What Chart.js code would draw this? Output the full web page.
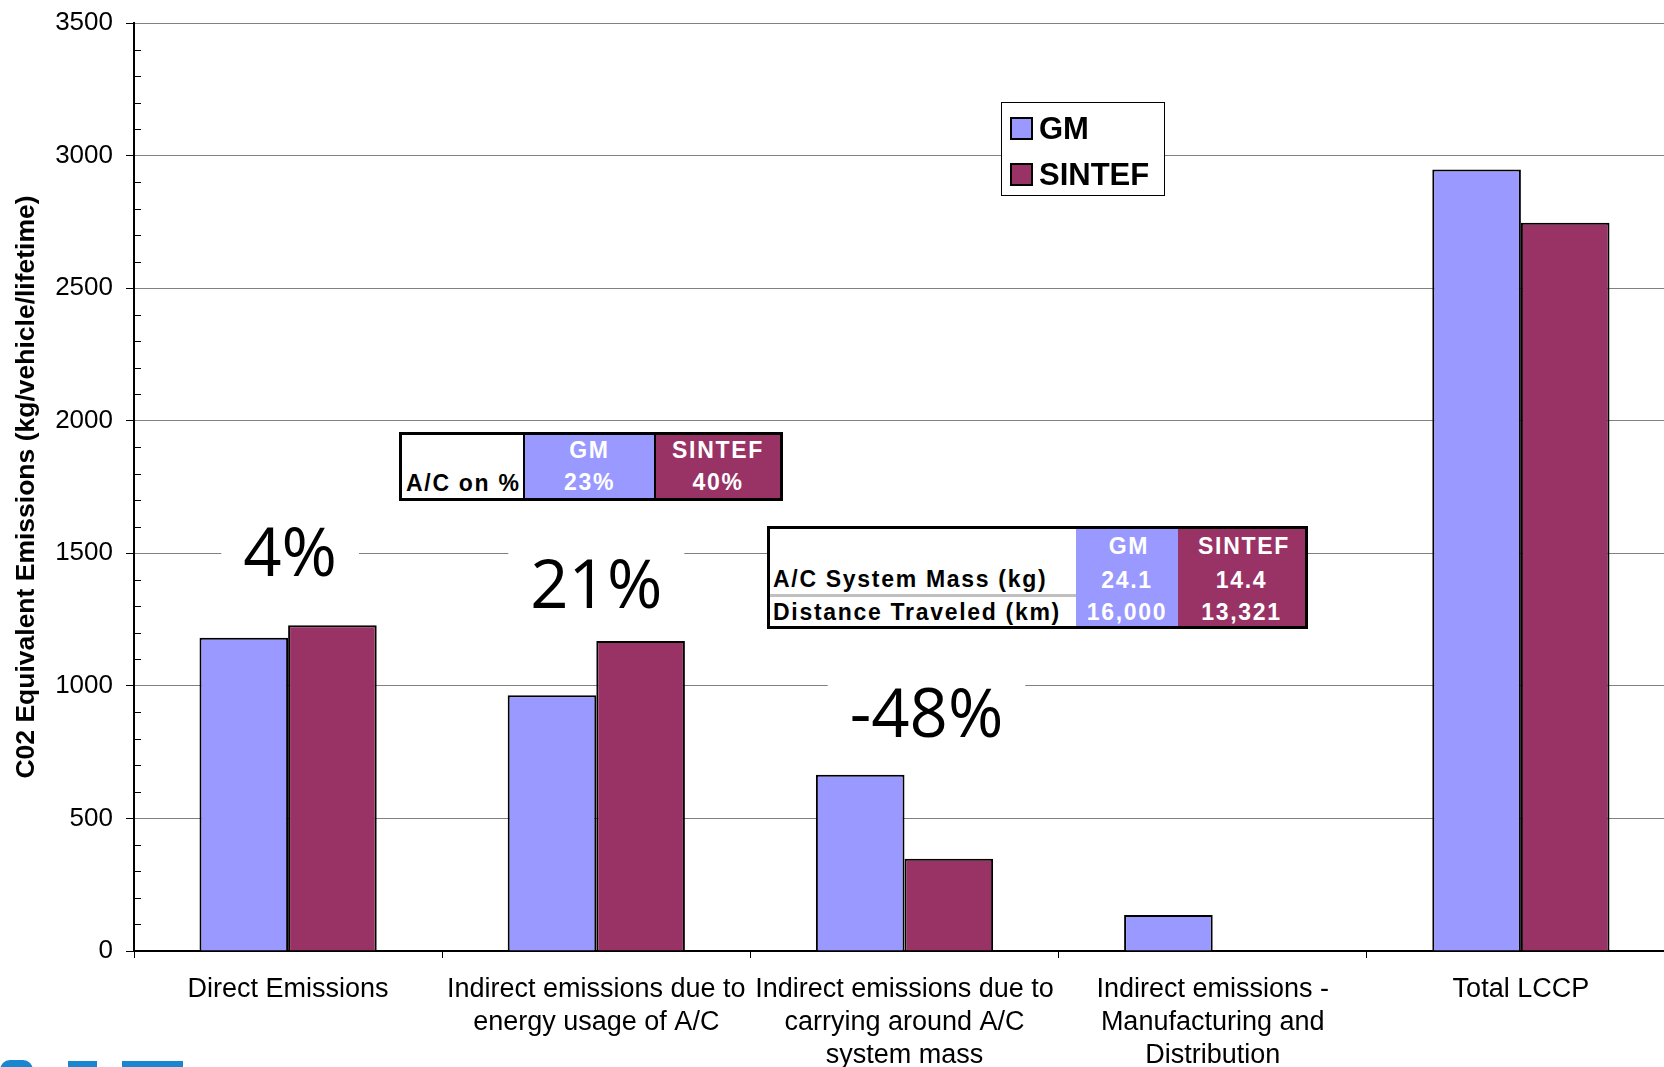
<!DOCTYPE html>
<html>
<head>
<meta charset="utf-8">
<script src="https://cdn.jsdelivr.net/npm/chart.js@4.4.1/dist/chart.umd.min.js"></script>
<style>
html, body { margin: 0; padding: 0; background: #fff; overflow: hidden; }
#wrap { position: relative; width: 1664px; height: 1067px; overflow: hidden; }
canvas { position: absolute; left: 0; top: 0; }
.info { position: absolute; border: 3px solid #000; background: #fff; box-sizing: border-box;
  font: bold 23px "Liberation Sans", Arial, sans-serif; letter-spacing: 1.7px; }
.cell { position: absolute; box-sizing: border-box; line-height: 34px; white-space: nowrap; }
.gm { background: #9999ff; color: #fff; text-align: center; }
.si { background: #993366; color: #fff; text-align: center; }
.logo { position: absolute; background: #1a86d0; }
</style>
</head>
<body>
<div id="wrap">
  <canvas id="myChart" width="1700" height="1067"></canvas>
  <div class="info" id="t1" style="left:399px;top:432px;width:384px;height:69px"></div>
  <div class="info" id="t2" style="left:767px;top:526px;width:541px;height:103px"></div>
  <div class="logo" style="left:0;top:1060px;width:33px;height:10px;border-radius:16px 16px 0 0"></div>
  <div class="logo" style="left:68px;top:1061px;width:29px;height:8px"></div>
  <div class="logo" style="left:122px;top:1061px;width:61px;height:8px"></div>
</div>
<script>
const categories = [
  'Direct Emissions',
  ['Indirect emissions due to', 'energy usage of A/C'],
  ['Indirect emissions due to', 'carrying around A/C', 'system mass'],
  ['Indirect emissions -', 'Manufacturing and', 'Distribution'],
  'Total LCCP'
]
const gmValues = [1181, 965, 665, 136, 2947]
const sintefValues = [1229, 1169, 348, null, 2747]

const annoTexts = ['4%', '21%', '-48%']
const annoCategory = [0, 1, 2]
const annoValues = [1500, 1380, 895]

const acOn = ['23%', '40%']
const systemMass = ['24.1', '14.4']
const distance = ['16,000', '13,321']

// info tables
function cell(parent, cls, left, top, width, height, text, extra) {
  const d = document.createElement('div')
  d.className = 'cell ' + cls
  d.style.cssText = `left:${left}px;top:${top}px;width:${width}px;height:${height}px;` + (extra || '')
  d.textContent = text
  parent.appendChild(d)
}
const t1 = document.getElementById('t1')
cell(t1, '', 0, 0, 123, 63, 'A/C on %', 'padding:31px 0 0 4px;line-height:34px;border-right:2px solid #000')
cell(t1, 'gm', 123, 0, 129, 32, 'GM', 'line-height:31px')
cell(t1, 'gm', 123, 32, 129, 31, acOn[0], 'line-height:31px')
cell(t1, 'si', 252, 0, 126, 32, 'SINTEF', 'line-height:31px;border-left:2px solid #000')
cell(t1, 'si', 252, 32, 126, 31, acOn[1], 'line-height:31px;border-left:2px solid #000')

const t2 = document.getElementById('t2')
cell(t2, '', 0, 34, 306, 34, 'A/C System Mass (kg)', 'padding-left:3px;border-bottom:3px solid #c0c0c0;line-height:32px')
cell(t2, '', 0, 68, 306, 31, 'Distance Traveled (km)', 'padding-left:3px;line-height:31px')
cell(t2, 'gm', 306, 0, 102, 97, '', '')
cell(t2, 'si', 408, 0, 127, 97, '', '')
cell(t2, 'gm', 306, 0, 102, 34, 'GM', 'background:none;padding-left:4px')
cell(t2, 'gm', 306, 34, 102, 34, systemMass[0], 'background:none')
cell(t2, 'gm', 306, 68, 102, 31, distance[0], 'background:none;line-height:31px')
cell(t2, 'si', 408, 0, 127, 34, 'SINTEF', 'background:none;padding-left:5px')
cell(t2, 'si', 408, 34, 127, 34, systemMass[1], 'background:none')
cell(t2, 'si', 408, 68, 127, 31, distance[1], 'background:none;line-height:31px')

const minorTicks = {
  id: 'minorTicks',
  afterDraw(chart) {
    const y = chart.scales.y
    const ctx = chart.ctx
    ctx.save()
    ctx.strokeStyle = '#000'
    ctx.lineWidth = 1
    for (let v = 0; v <= 3500; v += 100) {
      if (v % 500 === 0) continue
      const py = Math.round(y.getPixelForValue(v)) + 0.5
      ctx.beginPath()
      ctx.moveTo(y.right, py)
      ctx.lineTo(y.right + 7, py)
      ctx.stroke()
    }
    ctx.restore()
  }
}

const percentLabels = {
  id: 'percentLabels',
  beforeDatasetsDraw(chart) {
    const ctx = chart.ctx
    const xs = chart.scales.x, ys = chart.scales.y
    const offsets = [2, 0, 22]
    ctx.save()
    ctx.font = '67px "Open Sans", "DejaVu Sans", sans-serif'
    ctx.textAlign = 'center'
    ctx.textBaseline = 'alphabetic'
    annoTexts.forEach((t, i) => {
      const cx = xs.getPixelForValue(annoCategory[i]) + offsets[i]
      const base = ys.getPixelForValue(annoValues[i]) + 23
      const w = ctx.measureText(t).width
      ctx.fillStyle = '#fff'
      ctx.fillRect(cx - w / 2 - 22, base - 62, w + 44, 76)
      ctx.fillStyle = '#000'
      ctx.fillText(t, cx, base)
    })
    ctx.restore()
  }
}

const legendBox = {
  id: 'legendBox',
  afterDraw(chart) {
    const ctx = chart.ctx
    const x = 1001, y = 102, w = 163, h = 93
    ctx.save()
    ctx.fillStyle = '#fff'
    ctx.fillRect(x, y, w, h)
    ctx.strokeStyle = '#000'
    ctx.lineWidth = 1
    ctx.strokeRect(x + 0.5, y + 0.5, w, h)
    ctx.font = 'bold 31px "Liberation Sans", Arial, sans-serif'
    ctx.textBaseline = 'middle'
    chart.data.datasets.forEach((ds, i) => {
      const cy = 128 + i * 46
      ctx.fillStyle = ds.backgroundColor
      ctx.fillRect(x + 10, cy - 10, 21, 21)
      ctx.lineWidth = 2
      ctx.strokeRect(x + 10, cy - 10, 21, 21)
      ctx.fillStyle = '#000'
      ctx.fillText(ds.label, x + 38, cy + 2)
    })
    ctx.restore()
  }
}

const ctx = document.getElementById('myChart').getContext('2d')

const data = {
  labels: categories,
  datasets: [{
    label: 'GM',
    data: gmValues,
    backgroundColor: '#9999ff',
    borderColor: '#000',
    borderWidth: 2,
    categoryPercentage: 0.575,
    barPercentage: 1.0
  }, {
    label: 'SINTEF',
    data: sintefValues,
    backgroundColor: '#993366',
    borderColor: '#000',
    borderWidth: 2,
    categoryPercentage: 0.575,
    barPercentage: 1.0
  }]
}

const config = {
  type: 'bar',
  data,
  plugins: [percentLabels, minorTicks, legendBox],
  options: {
    responsive: false,
    animation: false,
    layout: { padding: { top: 23, right: 25, left: 0, bottom: 0 } },
    plugins: {
      legend: { display: false },
      tooltip: { enabled: false }
    },
    scales: {
      x: {
        afterFit(scale) { scale.height = 116 },
        grid: {
          offset: true,
          drawOnChartArea: false,
          tickLength: 7,
          tickColor: '#000'
        },
        border: { color: '#000', width: 2 },
        ticks: {
          color: '#000',
          padding: 15,
          maxRotation: 0,
          autoSkip: false,
          font: { family: '"Liberation Sans", Arial, sans-serif', size: 27, lineHeight: 1.22 }
        }
      },
      y: {
        min: 0,
        max: 3500,
        afterFit(scale) {
          scale.width = 134
          scale.paddingTop = 0
          scale.paddingBottom = 0
        },
        grid: {
          color: '#808080',
          lineWidth: 1,
          tickLength: 8,
          tickColor: '#000'
        },
        border: { color: '#000', width: 2 },
        ticks: {
          stepSize: 500,
          color: '#000',
          padding: 13,
          font: { family: '"Liberation Sans", Arial, sans-serif', size: 26 },
          callback: value => value
        },
        title: {
          display: true,
          text: 'C02 Equivalent Emissions (kg/vehicle/lifetime)',
          color: '#000',
          padding: { top: 11, bottom: 0 },
          font: { family: '"Liberation Sans", Arial, sans-serif', size: 26.5, weight: 'bold' }
        }
      }
    }
  }
}

const myChart = new Chart(ctx, config)
</script>
</body>
</html>
